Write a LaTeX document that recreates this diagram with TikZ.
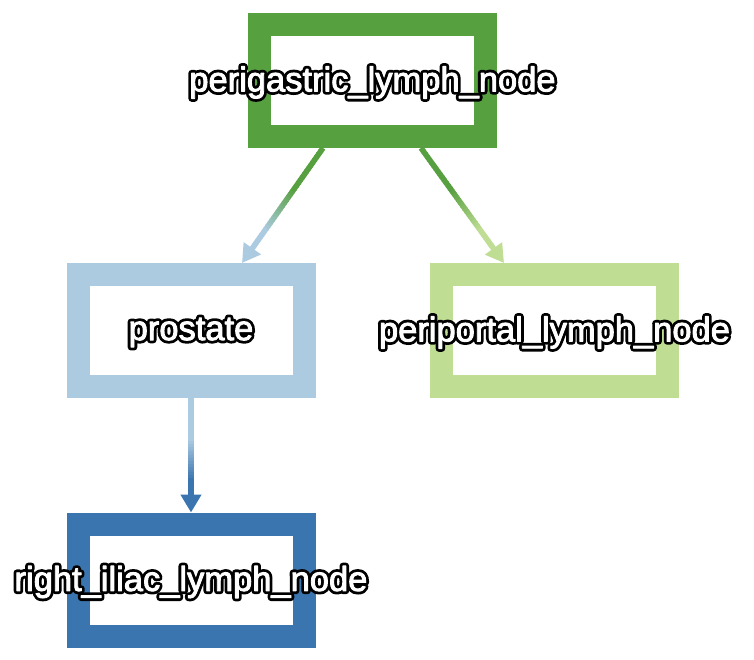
\documentclass[tikz,border=0pt]{standalone}
\usepackage{fontspec}
\setmainfont{Liberation Sans}
\usetikzlibrary{arrows.meta,calc}
\definecolor{cdgreen}{RGB}{87,160,64}
\definecolor{clgreen}{RGB}{191,222,148}
\definecolor{cdblue}{RGB}{59,117,175}
\definecolor{clblue}{RGB}{172,203,225}
\newcommand{\olbl}[1]{\rlap{\special{pdf:code 1 Tr 6.5 w 1 j 0 G}#1\special{pdf:code 0 Tr}}\special{pdf:code 2 Tr 0.9 w 1 j 1 G 1 g}#1\special{pdf:code 0 Tr}}
\tikzset{
  organ/.style={draw=#1, line width=23pt, fill=white, minimum width=226pt, minimum height=112pt, inner sep=0pt},
  lbl/.style={inner sep=0pt, text=white, font=\fontsize{34.5}{40}\selectfont},
  tiphead/.style={-{Triangle[length=18pt,width=20pt]}, line width=5.5pt}
}
% gradient connector: #1 start, #2 end, #3 source colour, #4 target colour
\newcommand{\gradedge}[4]{%
  \foreach \i in {0,...,39}{%
    \pgfmathsetmacro\ta{\i/40}%
    \pgfmathsetmacro\tb{min((\i+1.3)/40,0.85)}%
    \pgfmathtruncatemacro\pc{max(0,min(100,(\i/40-0.35)/0.35*100))}%
    \ifdim\ta pt<0.85pt
      \draw[line width=5.5pt, color=#4!\pc!#3] ($(#1)!\ta!(#2)$) -- ($(#1)!\tb!(#2)$);
    \fi
  }%
  \draw[tiphead, color=#4] ($(#1)!0.84!(#2)$) -- (#2);
}
\begin{document}
\begin{tikzpicture}[x=1pt,y=-1pt]
\useasboundingbox (0,0) rectangle (754,660);
\node[organ=cdgreen] (peri) at (372.5,80.5) {};
\node[organ=clblue] (pros) at (191,330.5) {};
\node[organ=clgreen] (port) at (554.5,330.5) {};
\node[organ=cdblue] (iliac) at (191,580) {};
\coordinate (e1s) at ($(peri.south)+(-49.5,0)$);
\coordinate (e1e) at ($(pros.north)+(51,0)$);
\coordinate (e2s) at ($(peri.south)+(48.5,0)$);
\coordinate (e2e) at ($(port.north)+(-50.5,0)$);
\gradedge{e1s}{e1e}{cdgreen}{clblue}
\gradedge{e2s}{e2e}{cdgreen}{clgreen}
\gradedge{pros.south}{iliac.north}{clblue}{cdblue}
\node[lbl] (peril) at ($(peri)+(0,2)$) {\olbl{perigastric\_lymph\_node}};
\node[lbl] (prosl) at ($(pros)+(0,2)$) {\olbl{prostate}};
\node[lbl] (portl) at ($(port)+(0,2)$) {\olbl{periportal\_lymph\_node}};
\node[lbl] (iliacl) at ($(iliac)+(0,2)$) {\olbl{right\_iliac\_lymph\_node}};
\end{tikzpicture}
\end{document}
